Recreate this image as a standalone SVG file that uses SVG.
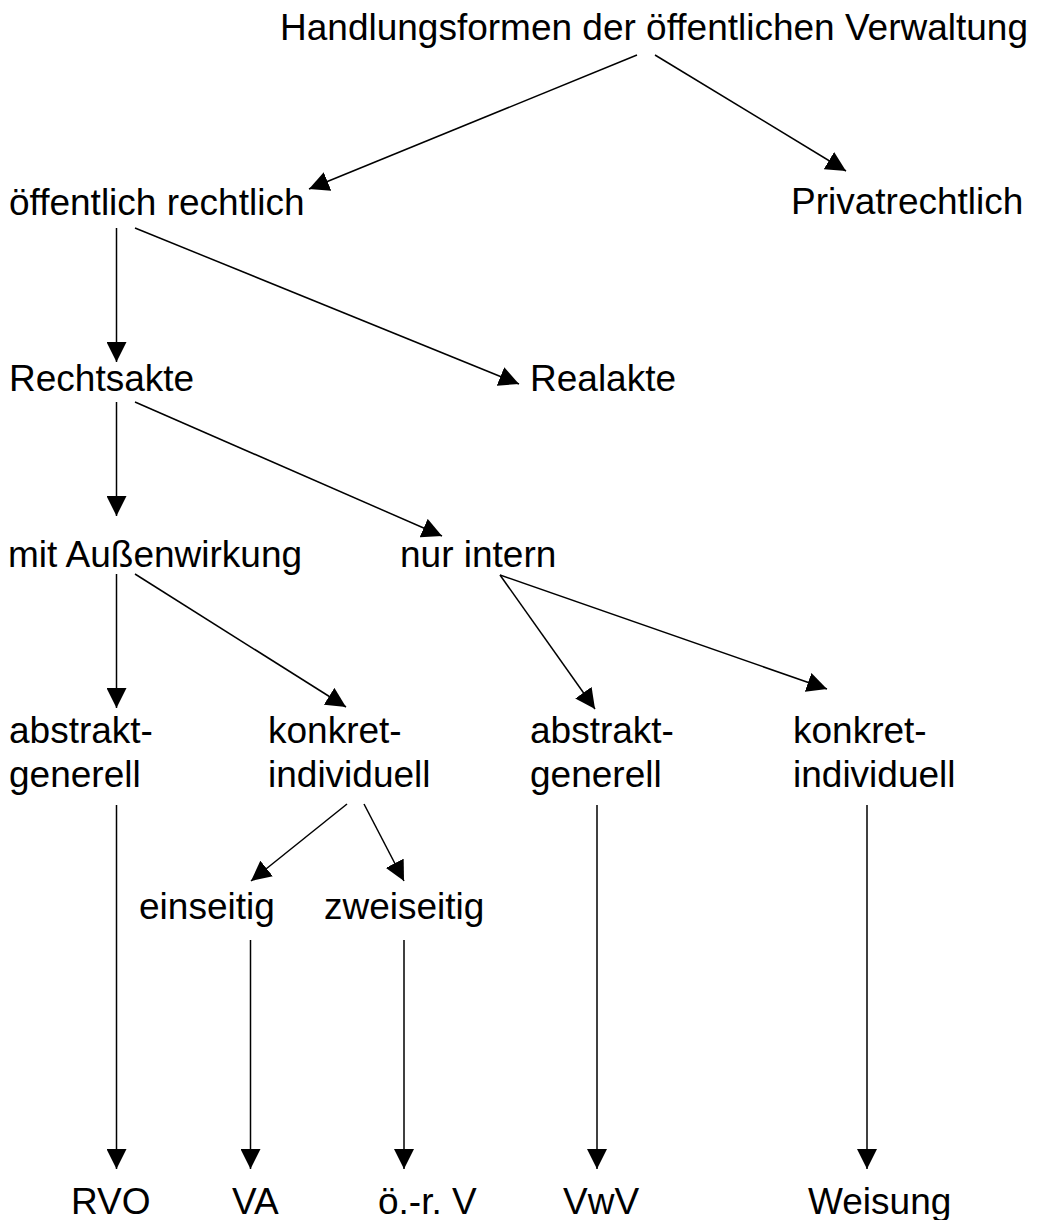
<svg xmlns="http://www.w3.org/2000/svg" width="1042" height="1220" viewBox="0 0 1042 1220">
  <style>
    .t { font-family: "Liberation Sans", Arial, sans-serif; font-size: 37px; fill: #000; }
    .c { stroke: #000; stroke-width: 1.5; fill: none; marker-end: url(#ah); }
  </style>
  <defs>
    <marker id="ah" markerUnits="userSpaceOnUse" markerWidth="20" markerHeight="20" viewBox="0 0 20 20" refX="20" refY="10" orient="auto">
      <path d="M0,0 L20,10 L0,20 z" fill="#000"/>
    </marker>
  </defs>
  <rect width="1042" height="1220" fill="#fff"/>

  <g id="connectors">
    <line class="c" x1="637" y1="55" x2="309" y2="189"/>
    <line class="c" x1="655" y1="55" x2="846" y2="171"/>
    <line class="c" x1="116.5" y1="228" x2="116.5" y2="362"/>
    <line class="c" x1="135" y1="228" x2="519" y2="384"/>
    <line class="c" x1="116.5" y1="402" x2="116.5" y2="516"/>
    <line class="c" x1="135" y1="402" x2="442" y2="536"/>
    <line class="c" x1="116.5" y1="574" x2="116.5" y2="708"/>
    <line class="c" x1="135" y1="574" x2="346" y2="707"/>
    <line class="c" x1="500" y1="575" x2="595" y2="709"/>
    <line class="c" x1="500" y1="575" x2="827" y2="689"/>
    <line class="c" x1="116.5" y1="805" x2="116.5" y2="1169"/>
    <line class="c" x1="347" y1="804" x2="251" y2="881"/>
    <line class="c" x1="364" y1="804" x2="404" y2="881"/>
    <line class="c" x1="597" y1="805" x2="597" y2="1169"/>
    <line class="c" x1="867" y1="805" x2="867" y2="1169"/>
    <line class="c" x1="250.5" y1="940" x2="250.5" y2="1169"/>
    <line class="c" x1="404" y1="940" x2="404" y2="1169"/>
  </g>

  <g id="n-handlungsformen"><text class="t" x="280" y="39.5">Handlungsformen der öffentlichen Verwaltung</text></g>
  <g id="n-oeffentlich"><text class="t" x="9" y="215">öffentlich rechtlich</text></g>
  <g id="n-privat"><text class="t" x="791" y="214">Privatrechtlich</text></g>
  <g id="n-rechtsakte"><text class="t" x="9" y="391">Rechtsakte</text></g>
  <g id="n-realakte"><text class="t" x="530" y="391">Realakte</text></g>
  <g id="n-aussen"><text class="t" x="8" y="567">mit Außenwirkung</text></g>
  <g id="n-intern"><text class="t" x="400" y="567">nur intern</text></g>
  <g id="n-ag1"><text class="t" x="9" y="743">abstrakt-</text><text class="t" x="9" y="787">generell</text></g>
  <g id="n-ki1"><text class="t" x="268" y="743">konkret-</text><text class="t" x="268" y="787">individuell</text></g>
  <g id="n-ag2"><text class="t" x="530" y="743">abstrakt-</text><text class="t" x="530" y="787">generell</text></g>
  <g id="n-ki2"><text class="t" x="793" y="743">konkret-</text><text class="t" x="793" y="787">individuell</text></g>
  <g id="n-einseitig"><text class="t" x="139" y="919">einseitig</text></g>
  <g id="n-zweiseitig"><text class="t" x="324" y="919">zweiseitig</text></g>
  <g id="n-rvo"><text class="t" x="71" y="1214">RVO</text></g>
  <g id="n-va"><text class="t" x="232" y="1214">VA</text></g>
  <g id="n-orv"><text class="t" x="378" y="1214">ö.-r. V</text></g>
  <g id="n-vwv"><text class="t" x="563" y="1214">VwV</text></g>
  <g id="n-weisung"><text class="t" x="808" y="1214">Weisung</text></g>
</svg>
